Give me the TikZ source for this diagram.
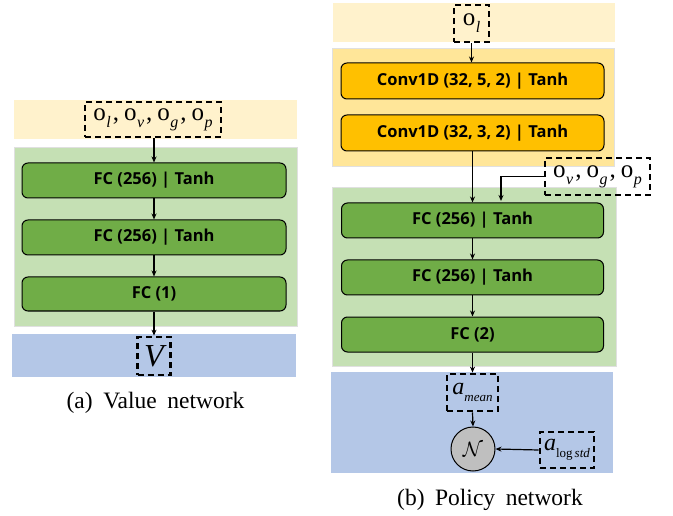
\documentclass[tikz,border=0pt]{standalone}
\usepackage{fontspec}
\setmainfont{Liberation Serif}
\newfontfamily\boxfont{Open Sans}
\usetikzlibrary{arrows.meta}
\definecolor{beigeband}{HTML}{FFF2CC}
\definecolor{orangepanel}{HTML}{FFE699}
\definecolor{convfill}{HTML}{FFC000}
\definecolor{greenpanel}{HTML}{C5E0B4}
\definecolor{fcfill}{HTML}{70AD47}
\definecolor{blueband}{HTML}{B4C7E7}
\definecolor{circfill}{HTML}{BFBFBF}
\newcommand{\osub}[1]{o\kern0.5pt\raisebox{-0.28em}{\fontsize{16}{16}\selectfont\itshape #1}}
\newcommand{\ocomma}{\kern2pt,\kern5pt}
\newcommand{\wsp}{\hspace{0.45em}}
\begin{document}
\begin{tikzpicture}[x=1pt,y=-1pt,
  panel/.style={draw=black!12, line width=0.8pt},
  layer/.style={draw=black, line width=1pt, rounded corners=6pt, inner sep=0pt,
    font=\boxfont\bfseries\fontsize{16.5}{19}\selectfont},
  dbox/.style={draw=black, line width=2.8pt, dash pattern=on 6pt off 4pt, inner sep=0pt},
  mathtxt/.style={font=\fontsize{25}{28}\selectfont},
  arr/.style={-{Stealth[length=6pt,width=5pt]}, line width=1.2pt},
  captxt/.style={font=\fontsize{23.5}{25}\selectfont}
]
\useasboundingbox (0,0) rectangle (673,516);

% ---------- Left: value network ----------
\fill[beigeband] (14,100) rectangle (297,139);
\filldraw[fill=greenpanel, panel] (14,147) rectangle (297,326);
\fill[blueband] (12,334) rectangle (296,377);

\node[dbox, mathtxt, minimum width=136pt, minimum height=35pt] (vin) at (153,119.5)
  {\osub{l}\ocomma\osub{v}\ocomma\osub{g}\ocomma\osub{p}};
\node[layer, fill=fcfill, minimum width=264pt, minimum height=35pt] (v1) at (154,180.5) {FC (256) | Tanh};
\node[layer, fill=fcfill, minimum width=264pt, minimum height=35pt] (v2) at (154,237.5) {FC (256) | Tanh};
\node[layer, fill=fcfill, minimum width=264pt, minimum height=34pt] (v3) at (154,294) {FC (1)};
\node[dbox, minimum width=33pt, minimum height=38pt, font=\fontsize{32}{34}\selectfont\itshape] (vout) at (154,356) {V};

\draw[arr] (vin.south -| v1.north) -- (v1.north);
\draw[arr] (v1) -- (v2);
\draw[arr] (v2) -- (v3);
\draw[arr] (v3.south) -- (vout.north);

\node[captxt] (capa) at (155.5,403) {(a)\wsp Value\wsp network};

% ---------- Right: policy network ----------
\fill[beigeband] (333,3) rectangle (615,42);
\filldraw[fill=orangepanel, panel] (332,48) rectangle (614,166);
\filldraw[fill=greenpanel, panel] (332,187) rectangle (616,366);
\fill[blueband] (331,372) rectangle (613,473);

\node[dbox, mathtxt, minimum width=35pt, minimum height=37pt] (pin) at (471.5,23.5) {\osub{l}};
\node[layer, fill=convfill, minimum width=263pt, minimum height=36pt] (c1) at (472.5,81) {Conv1D (32, 5, 2) | Tanh};
\node[layer, fill=convfill, minimum width=263pt, minimum height=36pt] (c2) at (472.5,133) {Conv1D (32, 3, 2) | Tanh};
\node[dbox, mathtxt, minimum width=105pt, minimum height=37pt] (pside) at (597.5,176.5)
  {\osub{v}\ocomma\osub{g}\ocomma\osub{p}};
\node[layer, fill=fcfill, minimum width=262pt, minimum height=35pt] (f1) at (472.5,220.5) {FC (256) | Tanh};
\node[layer, fill=fcfill, minimum width=262pt, minimum height=35pt] (f2) at (472.5,277.5) {FC (256) | Tanh};
\node[layer, fill=fcfill, minimum width=262pt, minimum height=35pt] (f3) at (472.5,334.5) {FC (2)};
\node[dbox, minimum width=51pt, minimum height=37pt] (amean) at (472.5,392.5)
  {\fontsize{24}{26}\selectfont\itshape a\raisebox{-0.3em}{\fontsize{13}{13}\selectfont mean}};
\node[draw=black, line width=1pt, fill=circfill, circle, minimum size=44pt, inner sep=0pt] (dist) at (473,449)
  {\fontsize{22}{24}\selectfont$\mathcal{N}$};
\node[dbox, minimum width=54pt, minimum height=36pt] (alog) at (567,450)
  {\fontsize{24}{26}\selectfont\itshape a\raisebox{-0.3em}{\fontsize{13}{13}\selectfont\upshape log\kern2pt\itshape std}};
\coordinate (join) at (501,201);

\draw[arr] (pin.south) -- (pin.south |- c1.north);
\draw[arr] (c2.south) -- (c2.south |- f1.north);
\draw[arr] (pside.west) -| (join);
\draw[arr] (f1) -- (f2);
\draw[arr] (f2) -- (f3);
\draw[arr] (f3.south) -- (amean.north);
\draw[arr] (amean.south) -- (dist.north);
\draw[arr] (alog.west) -- (dist.east);

\node[captxt] (capb) at (490,500) {(b)\wsp Policy\wsp network};
\end{tikzpicture}
\end{document}
